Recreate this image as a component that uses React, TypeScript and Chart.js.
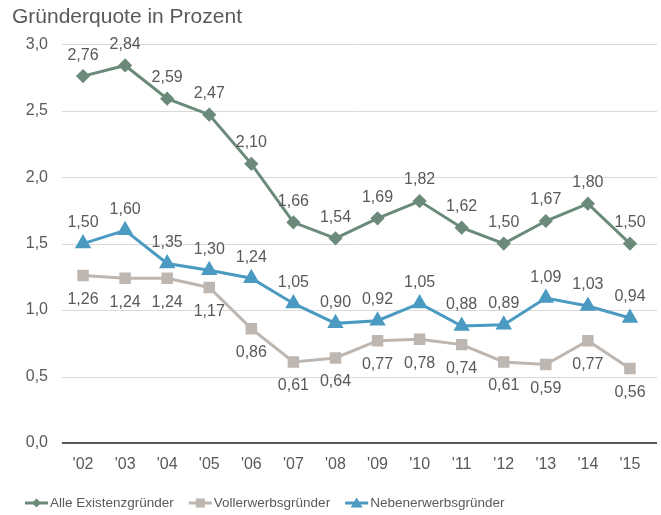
import React, { useEffect, useRef } from "react";
import { Chart, registerables } from "chart.js";

Chart.register(...registerables);

const years = ["'02", "'03", "'04", "'05", "'06", "'07", "'08", "'09", "'10", "'11", "'12", "'13", "'14", "'15"];
const alleExistenz = [2.76, 2.84, 2.59, 2.47, 2.10, 1.66, 1.54, 1.69, 1.82, 1.62, 1.50, 1.67, 1.80, 1.50];
const vollerwerb = [1.26, 1.24, 1.24, 1.17, 0.86, 0.61, 0.64, 0.77, 0.78, 0.74, 0.61, 0.59, 0.77, 0.56];
const nebenerwerb = [1.50, 1.60, 1.35, 1.30, 1.24, 1.05, 0.90, 0.92, 1.05, 0.88, 0.89, 1.09, 1.03, 0.94];
const shapes = ["diamond", "square", "triangle"];

const FONT = "'Liberation Sans', Arial, sans-serif";
const TEXT = "#595959";
const C_ALLE = "#6B8A79";
const C_VOLL = "#BDB6B1";
const C_NEBEN = "#4A9AC2";

function drawMarker(g: CanvasRenderingContext2D, shape: string, x: number, y: number) {
  g.beginPath();
  if (shape === "diamond") {
    g.moveTo(x, y - 4.5); g.lineTo(x + 4.5, y); g.lineTo(x, y + 4.5); g.lineTo(x - 4.5, y);
  } else if (shape === "square") {
    g.rect(x - 4.5, y - 4.5, 9, 9);
  } else {
    g.moveTo(x, y - 5.5); g.lineTo(x + 6, y + 4.5); g.lineTo(x - 6, y + 4.5);
  }
  g.closePath();
  g.fill();
}

const gridPlugin = {
  id: "extGrid",
  beforeDatasetsDraw(chart: any) {
    const { ctx, chartArea, scales } = chart;
    const y = scales.y;
    ctx.save();
    y.ticks.forEach((t: any) => {
      const py = Math.round(y.getPixelForValue(t.value));
      const zero = t.value === 0;
      ctx.strokeStyle = zero ? "#595959" : "#D9D9D9";
      ctx.lineWidth = zero ? 2 : 1;
      ctx.beginPath();
      ctx.moveTo(chartArea.left, zero ? py : py + 0.5);
      ctx.lineTo(chartArea.right + 6, zero ? py : py + 0.5);
      ctx.stroke();
    });
    ctx.restore();
  },
};

const labelPlugin = {
  id: "valueLabels",
  afterDatasetsDraw(chart: any) {
    const ctx = chart.ctx;
    ctx.save();
    ctx.font = `16px ${FONT}`;
    ctx.fillStyle = TEXT;
    ctx.textAlign = "center";
    ctx.textBaseline = "middle";
    chart.data.datasets.forEach((ds: any, i: number) => {
      const meta = chart.getDatasetMeta(i);
      const below = ds.labelPos === "below";
      meta.data.forEach((pt: any, j: number) => {
        const v = ds.data[j];
        const txt = v.toFixed(2).replace(".", ",");
        ctx.fillText(txt, pt.x, pt.y + (below ? 24 : -21));
      });
    });
    ctx.restore();
  },
};

const legendPlugin = {
  id: "customLegend",
  afterDraw(chart: any) {
    const ctx = chart.ctx;
    ctx.save();
    ctx.font = `13.5px ${FONT}`;
    ctx.textBaseline = "middle";
    ctx.textAlign = "left";
    let x = 25;
    const y = 503;
    chart.data.datasets.forEach((ds: any, i: number) => {
      ctx.strokeStyle = ds.borderColor;
      ctx.fillStyle = ds.borderColor;
      ctx.lineWidth = 3;
      ctx.beginPath();
      ctx.moveTo(x, y);
      ctx.lineTo(x + 23, y);
      ctx.stroke();
      drawMarker(ctx, shapes[i], x + 11.5, y);
      ctx.fillStyle = TEXT;
      ctx.fillText(ds.label, x + 25, y);
      x += 25 + ctx.measureText(ds.label).width + 15;
    });
    ctx.restore();
  },
};

export default function App() {
  const ref = useRef<HTMLCanvasElement>(null);
  useEffect(() => {
    const chart = new Chart(ref.current!, {
      type: "line",
      data: {
        labels: years,
        datasets: [
          {
            label: "Alle Existenzgründer",
            data: alleExistenz,
            borderColor: C_ALLE,
            backgroundColor: C_ALLE,
            borderWidth: 3,
            pointStyle: "rectRot",
            pointRadius: 5,
            tension: 0,
            labelPos: "above",
          } as any,
          {
            label: "Vollerwerbsgründer",
            data: vollerwerb,
            borderColor: C_VOLL,
            backgroundColor: C_VOLL,
            borderWidth: 3,
            pointStyle: "rect",
            pointRadius: 6,
            tension: 0,
            labelPos: "below",
          } as any,
          {
            label: "Nebenerwerbsgründer",
            data: nebenerwerb,
            borderColor: C_NEBEN,
            backgroundColor: C_NEBEN,
            borderWidth: 3,
            pointStyle: "triangle",
            pointRadius: 6.5,
            tension: 0,
            labelPos: "above",
          } as any,
        ],
      },
      options: {
        animation: false,
        responsive: false,
        layout: { padding: { left: 12, right: 10, top: 0, bottom: 45 } },
        plugins: {
          title: {
            display: true,
            text: "Gründerquote in Prozent",
            align: "start",
            color: TEXT,
            font: { family: FONT, size: 21, weight: "normal" },
            padding: { top: 5, bottom: 14 },
          },
          legend: { display: false },
          tooltip: { enabled: false },
        },
        scales: {
          x: {
            offset: true,
            grid: { display: false, drawTicks: false },
            border: { display: false },
            afterFit: (s: any) => {
              s.height = 27;
            },
            ticks: { color: TEXT, font: { family: FONT, size: 16 }, padding: 12, maxRotation: 0 },
          },
          y: {
            min: 0,
            max: 3,
            border: { display: false },
            grid: { display: false, drawTicks: false },
            afterFit: (s: any) => {
              s.width = 50;
            },
            ticks: {
              stepSize: 0.5,
              color: TEXT,
              padding: 14,
              font: { family: FONT, size: 16 },
              callback: (v: any) => Number(v).toFixed(1).replace(".", ","),
            },
          },
        },
      },
      plugins: [gridPlugin, labelPlugin, legendPlugin],
    });
    return () => chart.destroy();
  }, []);
  return (
    <div style={{ position: "fixed", left: 0, top: 0, width: 661, height: 515, background: "#fff" }}>
      <canvas ref={ref} width={661} height={515} />
    </div>
  );
}
